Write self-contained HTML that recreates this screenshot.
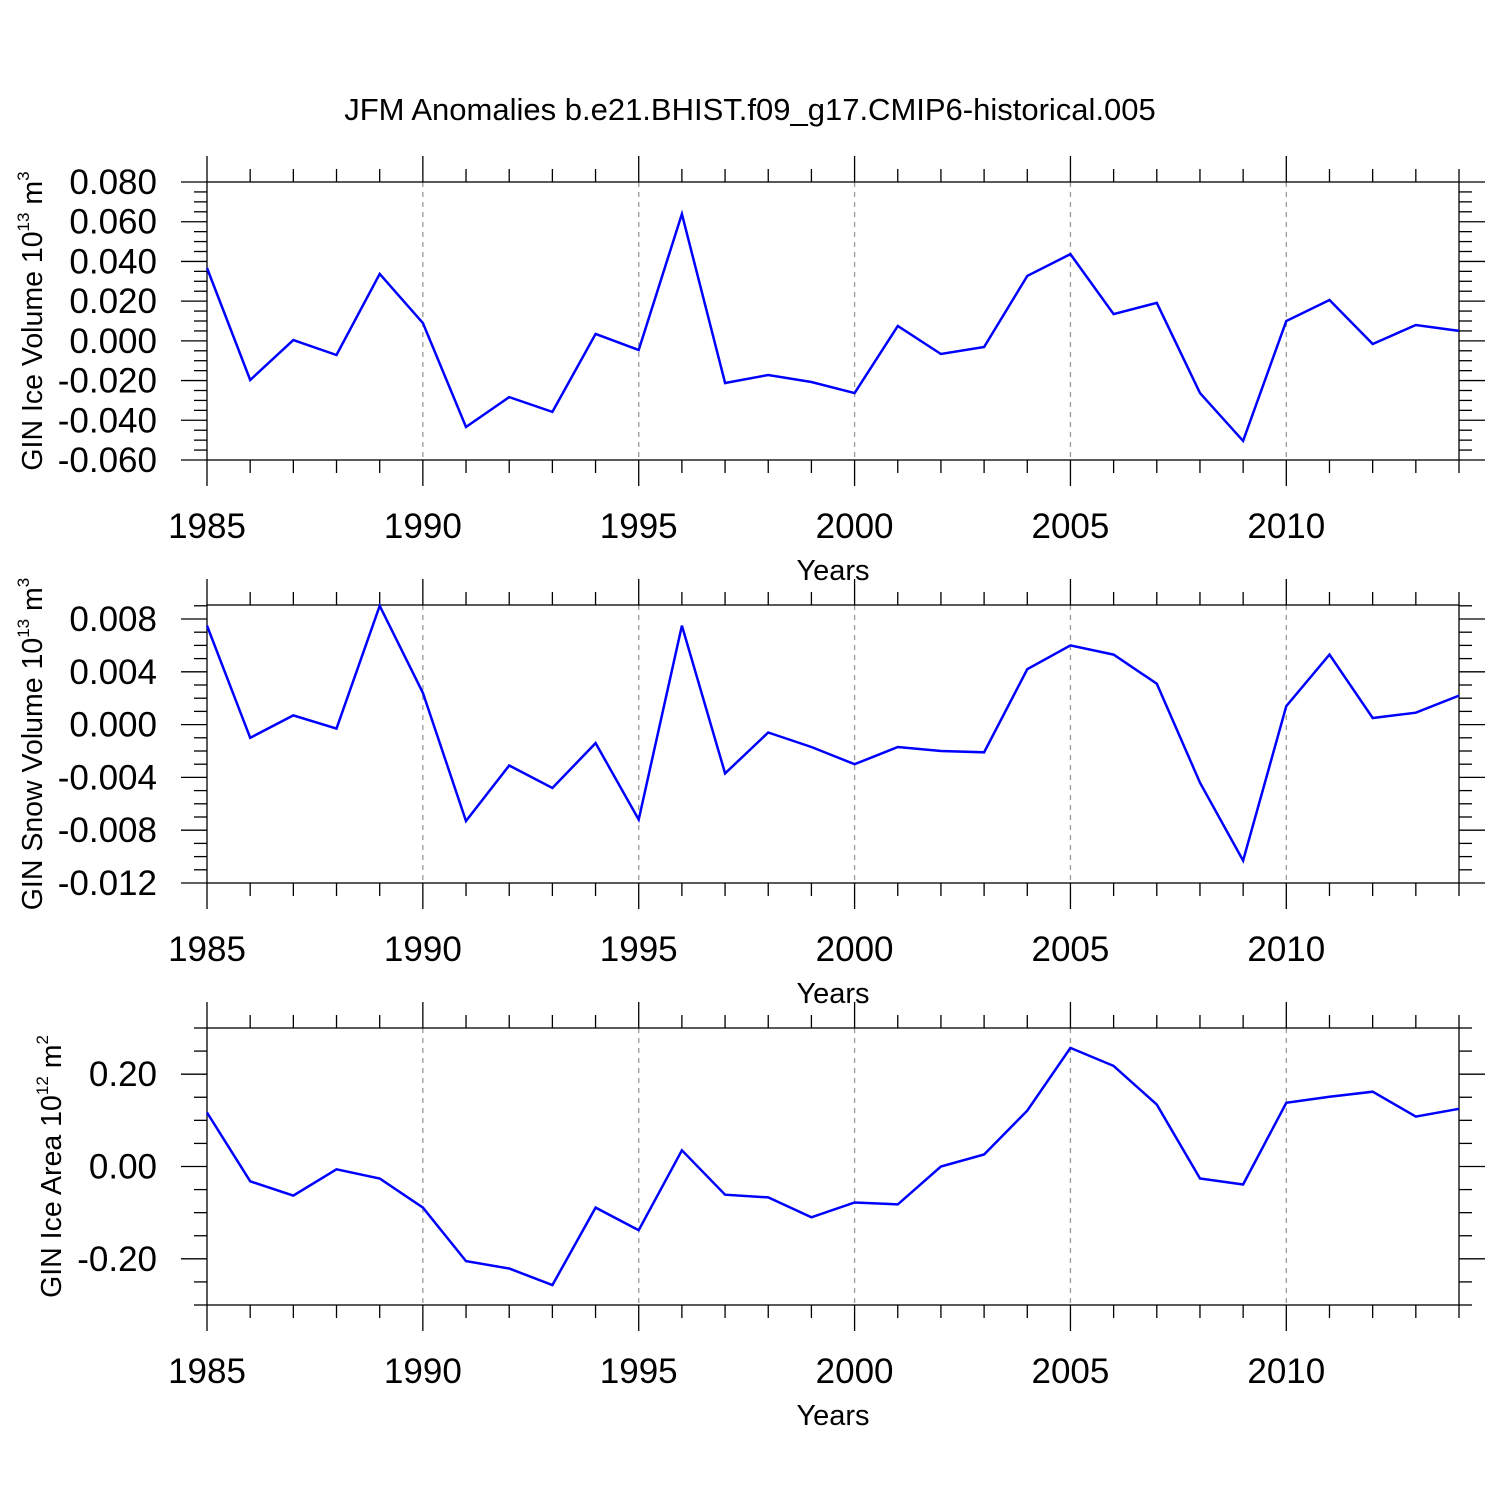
<!DOCTYPE html>
<html><head><meta charset="utf-8"><style>
html,body{margin:0;padding:0;background:#fff;}
svg{display:block;font-family:"Liberation Sans",sans-serif;}
</style></head><body>
<svg id="chart" width="1500" height="1500" viewBox="0 0 1500 1500">
<text x="750" y="120" text-anchor="middle" font-size="31">JFM Anomalies b.e21.BHIST.f09_g17.CMIP6-historical.005</text>
</svg>
<script>
const years = [1985,1986,1987,1988,1989,1990,1991,1992,1993,1994,1995,1996,1997,1998,1999,2000,2001,2002,2003,2004,2005,2006,2007,2008,2009,2010,2011,2012,2013,2014];
const xTickLabels = [1985,1990,1995,2000,2005,2010];
const iceVolume = [0.0367,-0.0197,0.0004,-0.0071,0.0337,0.0090,-0.0434,-0.0283,-0.0358,0.0035,-0.0046,0.0639,-0.0212,-0.0172,-0.0207,-0.0263,0.0075,-0.0066,-0.0031,0.0327,0.0437,0.0135,0.0191,-0.0263,-0.0504,0.0100,0.0206,-0.0016,0.0080,0.0050];
const snowVolume = [0.0075,-0.0010,0.0007,-0.0003,0.0090,0.0024,-0.0073,-0.0031,-0.0048,-0.0014,-0.0072,0.0075,-0.0037,-0.0006,-0.0017,-0.0030,-0.0017,-0.0020,-0.0021,0.0042,0.0060,0.0053,0.0031,-0.0044,-0.0103,0.0014,0.0053,0.0005,0.0009,0.0022];
const iceArea = [0.117,-0.032,-0.063,-0.006,-0.026,-0.089,-0.205,-0.221,-0.257,-0.089,-0.138,0.035,-0.061,-0.067,-0.110,-0.078,-0.082,0.000,0.026,0.121,0.257,0.218,0.134,-0.026,-0.039,0.138,0.151,0.162,0.108,0.125];
const iceVolTicks = [-0.06,-0.04,-0.02,0,0.02,0.04,0.06,0.08];
const iceVolTickLabels = ["-0.060","-0.040","-0.020","0.000","0.020","0.040","0.060","0.080"];
const snowTicks = [-0.012,-0.008,-0.004,0,0.004,0.008];
const snowTickLabels = ["-0.012","-0.008","-0.004","0.000","0.004","0.008"];
const areaTicks = [-0.2,0,0.2];
const areaTickLabels = ["-0.20","0.00","0.20"];

const NS="http://www.w3.org/2000/svg";
const svg=document.getElementById('chart');
function mk(tag,attrs,parent){const e=document.createElementNS(NS,tag);for(const k in attrs)e.setAttribute(k,attrs[k]);(parent||svg).appendChild(e);return e;}
const X0=207,X1=1459;
function xs(v){return X0+(v-years[0])/(years[years.length-1]-years[0])*(X1-X0);}

function panel(name,top,bottom,ymin,ymax,vals,ticks,labels,minorStep,ylabel,exp,unitExp,titleX){
  const g=mk('g',{});
  
  
  const ys=v=>bottom-(v-ymin)/(ymax-ymin)*(bottom-top);
  xTickLabels.slice(1).forEach(v=>{
    const l=mk('line',{x1:xs(v),x2:xs(v),y1:top,y2:bottom,stroke:'#999','stroke-width':1.3,'stroke-dasharray':'5,5'},g);
    
    
  });
  const r=mk('rect',{x:X0,y:top,width:X1-X0,height:bottom-top,fill:'none',stroke:'#000','stroke-width':1.3},g);
  
  
  years.forEach(v=>{
    const len=xTickLabels.includes(v)?26:13;
    const x=xs(v);
    mk('line',{x1:x,x2:x,y1:top,y2:top-len,stroke:'#000','stroke-width':1.3},g);
    mk('line',{x1:x,x2:x,y1:bottom,y2:bottom+len,stroke:'#000','stroke-width':1.3},g);
  });
  xTickLabels.forEach(v=>{
    const t=mk('text',{x:xs(v),y:bottom+78,'text-anchor':'middle','font-size':35},g);
    
    
    t.textContent=v;
  });
  const xt=mk('text',{x:833,y:bottom+120,'text-anchor':'middle','font-size':29},g);
  
  
  xt.textContent='Years';
  const start=Math.ceil(ymin/minorStep-1e-6);
  for(let i=start;i*minorStep<=ymax+1e-9;i++){
    const v=i*minorStep;
    const isMajor=ticks.some(t=>Math.abs(t-v)<1e-9);
    const len=isMajor?26:13;
    const y=ys(v);
    mk('line',{x1:X0,x2:X0-len,y1:y,y2:y,stroke:'#000','stroke-width':1.3},g);
    mk('line',{x1:X1,x2:X1+len,y1:y,y2:y,stroke:'#000','stroke-width':1.3},g);
  }
  ticks.forEach((v,i)=>{
    const t=mk('text',{x:157,y:ys(v)+12,'text-anchor':'end','font-size':35},g);
    
    
    t.textContent=labels[i];
  });
  const cy=(top+bottom)/2;
  const yl=mk('text',{x:0,y:0,'text-anchor':'middle','font-size':28.5,transform:`translate(${titleX},${cy}) rotate(-90)`},g);
  
  
  yl.innerHTML=ylabel+' 10<tspan font-size="17" dy="-13">'+exp+'</tspan><tspan dy="13"> m</tspan><tspan font-size="17" dy="-13">'+unitExp+'</tspan>';
  const pts=vals.map((v,i)=>xs(years[i]).toFixed(1)+','+ys(v).toFixed(1)).join(' ');
  const pl=mk('polyline',{points:pts,fill:'none',stroke:'#0000ff','stroke-width':2.5},g);
  
  
}
panel('ice-volume',182,460,-0.06,0.08,iceVolume,iceVolTicks,iceVolTickLabels,0.005,'GIN Ice Volume','13','3',42);
panel('snow-volume',605,883,-0.012,0.00906,snowVolume,snowTicks,snowTickLabels,0.001,'GIN Snow Volume','13','3',42);
panel('ice-area',1028,1305,-0.3,0.3,iceArea,areaTicks,areaTickLabels,0.05,'GIN Ice Area','12','2',61);
</script>
</body></html>
